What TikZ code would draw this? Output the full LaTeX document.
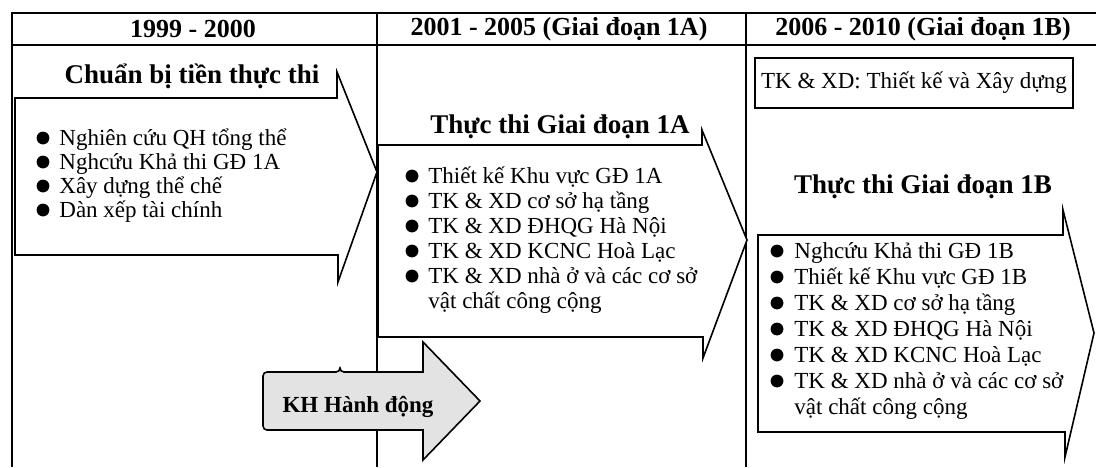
\documentclass[tikz,border=0pt]{standalone}
\usepackage{fontspec}
\setmainfont{Liberation Serif}
\usepackage{tikz}
\usetikzlibrary{positioning}

\begin{document}
\begin{tikzpicture}[
  x=0.5pt, y=-0.5pt,
  frame/.style={draw, line width=0.6pt},
  callout/.style={draw, fill=white, line width=0.8pt, line join=miter},
  kharrow/.style={draw, fill=gray!22, line width=0.8pt, line join=miter},
  year/.style={font=\fontsize{13}{15}\selectfont\bfseries, inner sep=0pt},
  phase/.style={font=\fontsize{13.5}{16}\selectfont\bfseries, inner sep=0pt},
  item/.style={font=\fontsize{11.5}{13}\selectfont, anchor=west, inner sep=0pt, text height=8pt, text depth=2.5pt},
  legendbox/.style={draw, line width=0.8pt, minimum width=159pt, minimum height=25pt, inner sep=0pt, font=\fontsize{11.5}{13}\selectfont}
]
\useasboundingbox (0,0) rectangle (1096,467);

\draw[frame] (12,467) -- (12,13) -- (1096,13);
\draw[frame] (12,45) -- (1096,45);
\draw[frame] (377,13) -- (377,467);
\draw[frame] (746,13) -- (746,467);
\node[year] (hd1) at (193,29) {1999 - 2000};
\node[year] (hd2) at (559,29) {2001 - 2005 (Giai đoạn 1A)};
\node[year] (hd3) at (923,29) {2006 - 2010 (Giai đoạn 1B)};

\draw[callout] (15,98) -- (337,98) -- (337,72) -- (377,172) -- (338,282) -- (338,255) -- (15,255) -- cycle;
\node[phase] (ttl1) at (192,76) {Chuẩn bị tiền thực thi};
\foreach \t [count=\i] in {Nghiên cứu QH tổng thể, Nghcứu Khả thi GĐ 1A, Xây dựng thể chế, Dàn xếp tài chính}{
  \fill (43,114+24*\i) circle (3.2pt);
  \node[item] (p1-\i) at (59,116+24*\i) {\t};
}

\draw[callout] (378,145) -- (702,145) -- (702,130) -- (747,240) -- (703,358) -- (703,337) -- (378,337) -- cycle;
\node[phase] (ttl2) at (560,127) {Thực thi Giai đoạn 1A};
\foreach \t [count=\i] in {Thiết kế Khu vực GĐ 1A, TK \& XD cơ sở hạ tầng, TK \& XD ĐHQG Hà Nội, TK \& XD KCNC Hoà Lạc, TK \& XD nhà ở và các cơ sở}{
  \fill (412,151+25*\i) circle (3.2pt);
  \node[item] (p2-\i) at (428,153+25*\i) {\t};
}
\node[item] (p2-6) at (428,303) {vật chất công cộng};

\node[legendbox] (legend) at (914,83) {TK \& XD: Thiết kế và Xây dựng};

\draw[callout] (758,235) -- (1063,235) -- (1063,210) -- (1094,333) -- (1065,457) -- (1065,432) -- (758,432) -- cycle;
\node[phase] (ttl3) at (923,187) {Thực thi Giai đoạn 1B};
\foreach \t [count=\i] in {Nghcứu Khả thi GĐ 1B, Thiết kế Khu vực GĐ 1B, TK \& XD cơ sở hạ tầng, TK \& XD ĐHQG Hà Nội, TK \& XD KCNC Hoà Lạc, TK \& XD nhà ở và các cơ sở}{
  \fill (777,225+26*\i) circle (3.2pt);
  \node[item] (p3-\i) at (794,227+26*\i) {\t};
}
\node[item] (p3-7) at (794,409) {vật chất công cộng};

\draw[kharrow] (340,372) -- (423,372) -- (423,342) -- (480,401) -- (423,460) -- (423,430) [rounded corners=2pt] -- (263,430) -- (263,372) -- (340,372) -- cycle;
\node[font=\fontsize{11.5}{13}\selectfont\bfseries, inner sep=0pt] (kh) at (358,407) {KH Hành động};
\end{tikzpicture}
\end{document}
